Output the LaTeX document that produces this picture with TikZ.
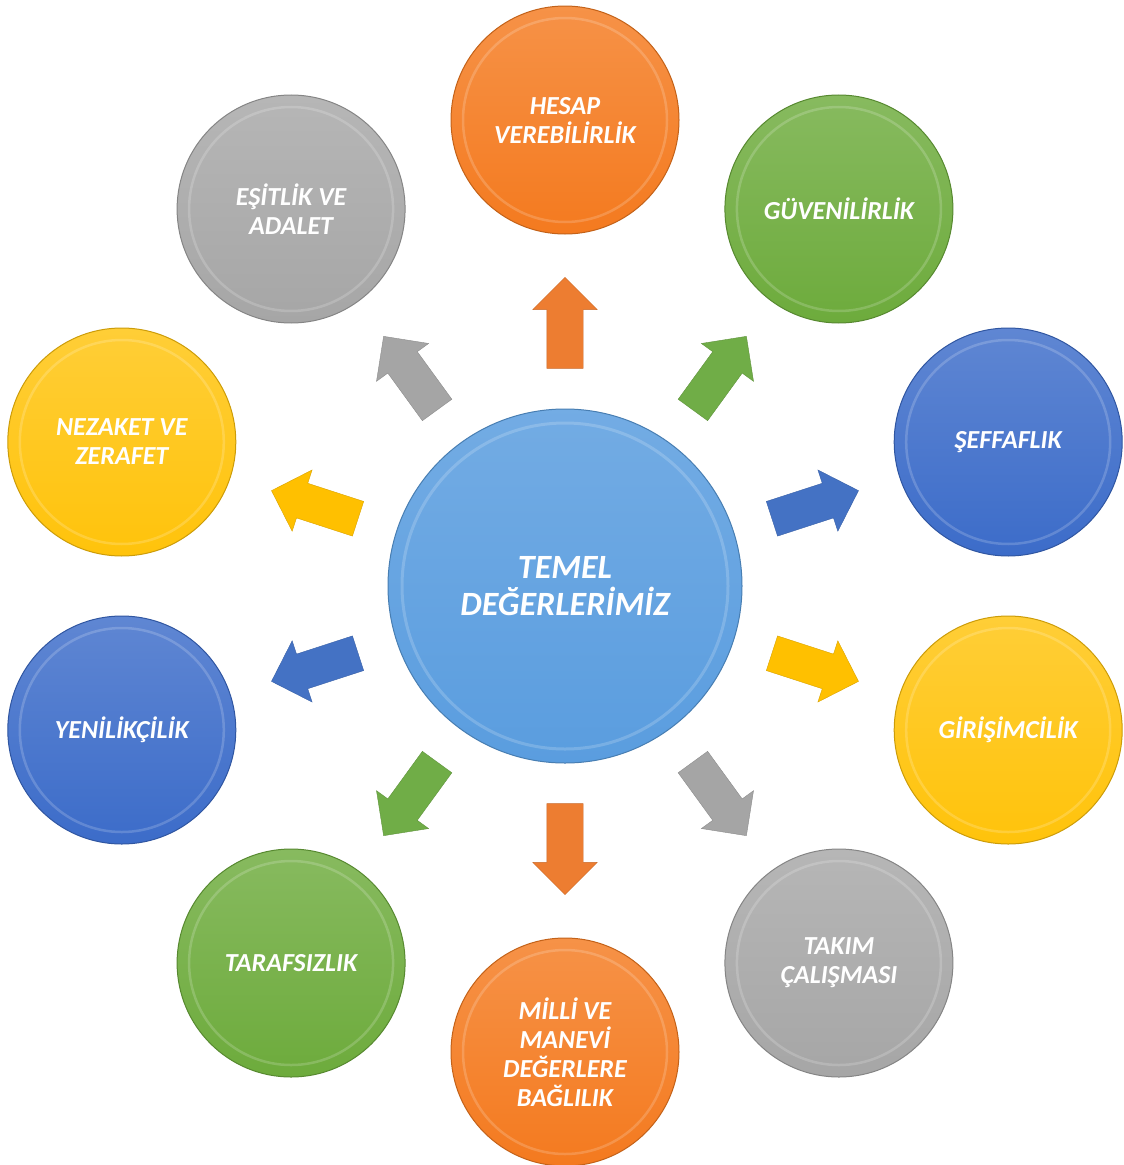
\documentclass[tikz,border=0pt]{standalone}
\usepackage{fontspec}
\setmainfont{Carlito}
\usetikzlibrary{calc,positioning,shapes.arrows}

\definecolor{orangeval}{HTML}{F47A1F}
\definecolor{greenval}{HTML}{6DAB3C}
\definecolor{blueval}{HTML}{3C6CC9}
\definecolor{yellowval}{HTML}{FFC30B}
\definecolor{grayval}{HTML}{A6A6A6}
\definecolor{centerval}{HTML}{5A9DDF}

\definecolor{orangearr}{HTML}{ED7D31}
\definecolor{greenarr}{HTML}{70AD47}
\definecolor{bluearr}{HTML}{4472C4}
\definecolor{yellowarr}{HTML}{FFC000}
\definecolor{grayarr}{HTML}{A5A5A5}

\begin{document}
\begin{tikzpicture}[x=1pt,y=1pt,
	value/.style={circle,minimum size=228pt,inner sep=0pt,align=center,text=white,
		font=\fontsize{26}{29}\selectfont\bfseries\itshape,
		top color=#1!82!white,bottom color=#1,draw=#1!80!black,line width=1pt,
		path picture={\draw[white,opacity=0.18,line width=2.5pt]
			(path picture bounding box.center) circle (102pt);}},
	push/.style={single arrow,single arrow head extend=14pt,minimum height=91pt,
		minimum width=64pt,inner xsep=0pt,inner ysep=18pt,fill=#1,draw=#1!85!black}]
	
	\useasboundingbox (0,0) rectangle (1124,-1165);
	
	\node [circle,minimum size=354pt,inner sep=0pt,align=center,text=white,
		font=\fontsize{34}{37}\selectfont\bfseries\itshape,
		top color=centerval!85!white,bottom color=centerval,draw=centerval!80!black,line width=1pt,
		path picture={\draw[white,opacity=0.18,line width=3pt]
			(path picture bounding box.center) circle (163pt);}]
		(temel) at (565,-586) {TEMEL\\DEĞERLERİMİZ};
	
	%%%%%%%%%%%%%%%%%%%%%%%%%%%%%%%%%%%%%%%%%%%%%%%%%%%%%%
	
	\node [value=orangeval] (hesap) at ([shift={(90:466)}]temel.center) {HESAP\\VEREBİLİRLİK};
	\node [value=greenval] (guven) at ([shift={(54:466)}]temel.center) {GÜVENİLİRLİK};
	\node [value=blueval] (seffaf) at ([shift={(18:466)}]temel.center) {ŞEFFAFLIK};
	\node [value=yellowval] (girisim) at ([shift={(-18:466)}]temel.center) {GİRİŞİMCİLİK};
	\node [value=grayval] (takim) at ([shift={(-54:466)}]temel.center) {TAKIM\\ÇALIŞMASI};
	\node [value=orangeval] (milli) at ([shift={(-90:466)}]temel.center) {MİLLİ VE\\MANEVİ\\DEĞERLERE\\BAĞLILIK};
	\node [value=greenval] (taraf) at ([shift={(-126:466)}]temel.center) {TARAFSIZLIK};
	\node [value=blueval] (yenilik) at ([shift={(-162:466)}]temel.center) {YENİLİKÇİLİK};
	\node [value=yellowval] (nezaket) at ([shift={(162:466)}]temel.center) {NEZAKET VE\\ZERAFET};
	\node [value=grayval] (esitlik) at ([shift={(126:466)}]temel.center) {EŞİTLİK VE\\ADALET};
	
	%%%%%%%%%%%%%%%%%%%%%%%%%%%%%%%%%%%%%%%%%%%%%%%%%%%%%%
	
	\node [push=orangearr,rotate=90] (hesap-arrow) at ($(temel)!254pt!(hesap)$) {};
	\node [push=greenarr,rotate=54] (guven-arrow) at ($(temel)!254pt!(guven)$) {};
	\node [push=bluearr,rotate=18] (seffaf-arrow) at ($(temel)!254pt!(seffaf)$) {};
	\node [push=yellowarr,rotate=-18] (girisim-arrow) at ($(temel)!254pt!(girisim)$) {};
	\node [push=grayarr,rotate=-54] (takim-arrow) at ($(temel)!254pt!(takim)$) {};
	\node [push=orangearr,rotate=-90] (milli-arrow) at ($(temel)!254pt!(milli)$) {};
	\node [push=greenarr,rotate=-126] (taraf-arrow) at ($(temel)!254pt!(taraf)$) {};
	\node [push=bluearr,rotate=-162] (yenilik-arrow) at ($(temel)!254pt!(yenilik)$) {};
	\node [push=yellowarr,rotate=162] (nezaket-arrow) at ($(temel)!254pt!(nezaket)$) {};
	\node [push=grayarr,rotate=126] (esitlik-arrow) at ($(temel)!254pt!(esitlik)$) {};
	
	%%%%%%%%%%%%%%%%%%%%%%%%%%%%%%%%%%%%%%%%%%%%%%%%%%%%%%
	
\end{tikzpicture}
\end{document}
